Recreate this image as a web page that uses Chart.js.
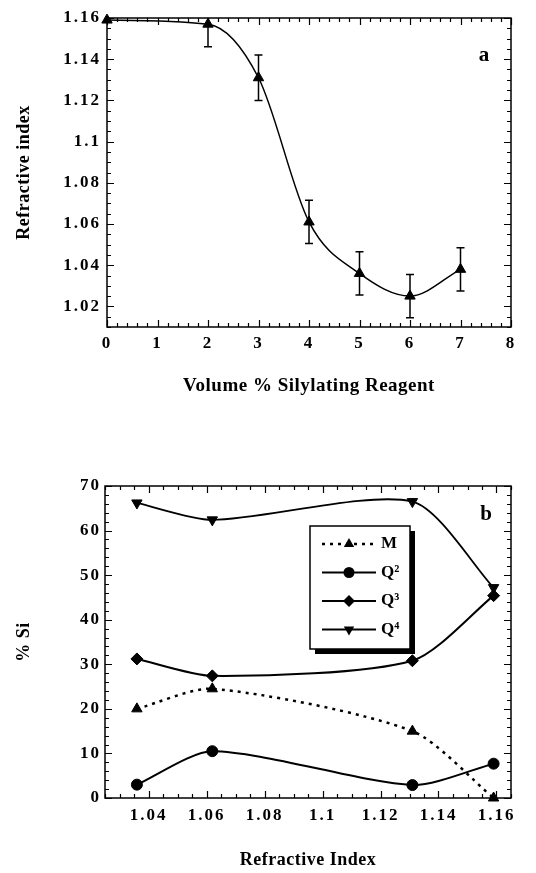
<!DOCTYPE html>
<html>
<head>
<meta charset="utf-8">
<script src="https://cdn.jsdelivr.net/npm/chart.js@4.4.1/dist/chart.umd.min.js"></script>
<style>
  body { margin: 0; background: #fff; }
  .panel { position: absolute; left: 0; width: 536px; }
  #panelA { top: 0; height: 420px; }
  #panelB { top: 440px; height: 433px; }
</style>
</head>
<body>
<div class="panel" id="panelA"><canvas id="chartA"></canvas></div>
<div class="panel" id="panelB"><canvas id="chartB"></canvas></div>
<script>
// Panel a: refractive index vs. volume % silylating reagent
const volumePct = [0, 2, 3, 4, 5, 6, 7];
const refIndex = [1.159, 1.157, 1.131, 1.061, 1.036, 1.025, 1.038];
const refErr = [0, 0.011, 0.011, 0.0105, 0.0105, 0.0105, 0.0105];
const volTicks = [0, 1, 2, 3, 4, 5, 6, 7, 8];
const volLabels = ['0', '1', '2', '3', '4', '5', '6', '7', '8'];
const riTicks = [1.02, 1.04, 1.06, 1.08, 1.10, 1.12, 1.14, 1.16];
const riLabels = ['1.02', '1.04', '1.06', '1.08', '1.1', '1.12', '1.14', '1.16'];

// Panel b: % Si species vs. refractive index
const riSamples = [1.036, 1.062, 1.131, 1.159];
const siM = [20.0, 24.5, 15.0, 0];
const siQ2 = [3.0, 10.5, 2.9, 7.7];
const siQ3 = [31.2, 27.4, 30.8, 45.4];
const siQ4 = [66.2, 62.4, 66.5, 47.2];
const seriesNames = ['M', 'Q\u00B2', 'Q\u00B3', 'Q\u2074'];
const riAxisTicks = [1.04, 1.06, 1.08, 1.10, 1.12, 1.14, 1.16];
const riAxisLabels = ['1.04', '1.06', '1.08', '1.1', '1.12', '1.14', '1.16'];
const siTicks = [0, 10, 20, 30, 40, 50, 60, 70];
const siLabels = ['0', '10', '20', '30', '40', '50', '60', '70'];

const serif = '"Liberation Serif", "Times New Roman", serif';

function pairs(xs, ys) {
    return xs.map((x, i) => ({ x: x, y: ys[i] }));
}

function fixedTicks(values) {
    return function(scale) {
        scale.ticks = values.map(v => ({ value: v }));
    };
}

function minorValues(scale, step) {
    const out = [];
    const start = Math.ceil(scale.min / step - 1e-6);
    for (let k = start; k * step <= scale.max + 1e-9; k++) {
        const v = k * step;
        if (!scale.ticks.some(t => Math.abs(t.value - v) < step / 10)) out.push(v);
    }
    return out;
}

function drawMarker(ctx, style, x, y, r, rotation) {
    ctx.beginPath();
    if (style === 'circle') {
        ctx.arc(x, y, r, 0, Math.PI * 2);
    } else if (style === 'rectRot') {
        ctx.moveTo(x, y - r);
        ctx.lineTo(x + r, y);
        ctx.lineTo(x, y + r);
        ctx.lineTo(x - r, y);
    } else {
        let rad = (rotation || 0) * Math.PI / 180;
        for (let k = 0; k < 3; k++) {
            const px = x + Math.sin(rad) * r, py = y - Math.cos(rad) * r;
            if (k === 0) ctx.moveTo(px, py); else ctx.lineTo(px, py);
            rad += Math.PI * 2 / 3;
        }
    }
    ctx.closePath();
    ctx.fill();
}

// letter spacing: titles loose, tick labels wide like the original
const spacingPlugin = {
    id: 'spacing',
    beforeDraw(chart) { chart.ctx.letterSpacing = '0.5px'; },
    afterDatasetsDraw(chart) { chart.ctx.letterSpacing = '2px'; },
    afterDraw(chart) { chart.ctx.letterSpacing = '0px'; }
};

const errorBarPlugin = {
    id: 'errorBars',
    afterDatasetsDraw(chart) {
        const { ctx, chartArea: a, scales: { x, y } } = chart;
        chart.data.datasets.forEach(ds => {
            if (!ds.errors) return;
            ctx.save();
            ctx.beginPath();
            ctx.rect(a.left, a.top, a.right - a.left, a.bottom - a.top);
            ctx.clip();
            ctx.strokeStyle = '#000';
            ctx.lineWidth = 1.5;
            ds.data.forEach((p, i) => {
                const e = ds.errors[i];
                if (!e) return;
                const px = x.getPixelForValue(p.x);
                const hi = y.getPixelForValue(p.y + e);
                const lo = y.getPixelForValue(p.y - e);
                ctx.beginPath();
                ctx.moveTo(px, hi); ctx.lineTo(px, lo);
                ctx.moveTo(px - 4, hi); ctx.lineTo(px + 4, hi);
                ctx.moveTo(px - 4, lo); ctx.lineTo(px + 4, lo);
                ctx.stroke();
            });
            ctx.restore();
        });
    }
};

// box around the plot with inward major and minor ticks on all four sides
const framePlugin = {
    id: 'frame',
    afterDraw(chart, args, opts) {
        const { ctx, chartArea: a, scales: { x, y } } = chart;
        ctx.save();
        ctx.letterSpacing = '0px';
        ctx.strokeStyle = '#000';
        ctx.lineWidth = 1.5;
        ctx.strokeRect(a.left, a.top, a.right - a.left, a.bottom - a.top);
        ctx.lineWidth = 1.2;
        const xMark = (v, len) => {
            const px = Math.round(x.getPixelForValue(v)) + 0.5;
            ctx.moveTo(px, a.bottom); ctx.lineTo(px, a.bottom - len);
            ctx.moveTo(px, a.top); ctx.lineTo(px, a.top + len);
        };
        const yMark = (v, len) => {
            const py = Math.round(y.getPixelForValue(v)) + 0.5;
            ctx.moveTo(a.left, py); ctx.lineTo(a.left + len, py);
            ctx.moveTo(a.right, py); ctx.lineTo(a.right - len, py);
        };
        ctx.beginPath();
        x.ticks.forEach(t => xMark(t.value, 7));
        y.ticks.forEach(t => yMark(t.value, 7));
        minorValues(x, opts.minorX).forEach(v => xMark(v, 4));
        minorValues(y, opts.minorY).forEach(v => yMark(v, 4));
        ctx.stroke();
        if (opts.text) {
            ctx.fillStyle = '#000';
            ctx.font = 'bold 21px ' + serif;
            ctx.textAlign = 'center';
            ctx.textBaseline = 'middle';
            ctx.fillText(opts.text, a.right - opts.dx, a.top + opts.dy);
        }
        ctx.restore();
    }
};

// framed legend with a drop shadow, placed inside the plot of panel b
const boxLegendPlugin = {
    id: 'boxLegend',
    afterDraw(chart, args, opts) {
        if (!opts.w) return;
        const { ctx, chartArea: a } = chart;
        const bx = a.left + opts.dx, by = a.top + opts.dy;
        ctx.save();
        ctx.letterSpacing = '0px';
        ctx.fillStyle = '#000';
        ctx.fillRect(bx + 5, by + 5, opts.w, opts.h);
        ctx.fillStyle = '#fff';
        ctx.fillRect(bx, by, opts.w, opts.h);
        ctx.strokeStyle = '#000';
        ctx.lineWidth = 1.5;
        ctx.strokeRect(bx, by, opts.w, opts.h);
        chart.data.datasets.forEach((ds, i) => {
            const yy = by + 18 + i * 28.5;
            ctx.save();
            ctx.lineWidth = ds.borderWidth;
            ctx.setLineDash(ds.borderDash || []);
            ctx.beginPath();
            ctx.moveTo(bx + 12, yy);
            ctx.lineTo(bx + 66, yy);
            ctx.stroke();
            ctx.restore();
            ctx.fillStyle = '#000';
            drawMarker(ctx, ds.pointStyle, bx + 39, yy, ds.pointRadius, ds.pointRotation);
            ctx.font = 'bold 17px ' + serif;
            ctx.textAlign = 'left';
            ctx.textBaseline = 'middle';
            ctx.fillText(ds.label, bx + 71, yy);
        });
        ctx.restore();
    }
};

function axisTicks(labels, padding) {
    return {
        z: 1,
        padding: padding,
        autoSkip: false,
        maxRotation: 0,
        color: '#000',
        font: { family: serif, size: 17, weight: 'bold' },
        callback: (v, i) => labels[i]
    };
}

function axisTitle(text, size, padding) {
    return {
        display: true,
        text: text,
        color: '#000',
        font: { family: serif, size: size, weight: 'bold' },
        padding: padding
    };
}

const hidden = { display: false, drawTicks: false };

new Chart(document.getElementById('chartA'), {
    type: 'line',
    data: {
        datasets: [{
            label: 'Refractive index',
            data: pairs(volumePct, refIndex),
            errors: refErr,
            borderColor: '#000',
            borderWidth: 1.5,
            pointStyle: 'triangle',
            pointRadius: 6,
            pointBackgroundColor: '#000',
            pointBorderColor: '#000',
            pointBorderWidth: 1,
            cubicInterpolationMode: 'monotone',
            clip: false,
            fill: false
        }]
    },
    options: {
        animation: false,
        responsive: true,
        maintainAspectRatio: false,
        layout: { padding: { top: 18, right: 25, bottom: 23, left: 0 } },
        plugins: {
            legend: { display: false },
            tooltip: { enabled: false },
            frame: { minorX: 0.2, minorY: 0.005, text: 'a', dx: 27, dy: 38 }
        },
        scales: {
            x: {
                type: 'linear',
                min: 0,
                max: 8,
                afterBuildTicks: fixedTicks(volTicks),
                afterFit: s => { s.height = 70; },
                grid: hidden,
                border: { display: false },
                ticks: axisTicks(volLabels, 6),
                title: axisTitle('Volume % Silylating Reagent', 19, 0)
            },
            y: {
                type: 'linear',
                min: 1.01,
                max: 1.16,
                afterBuildTicks: fixedTicks(riTicks),
                afterFit: s => { s.width = 107; },
                grid: hidden,
                border: { display: false },
                ticks: axisTicks(riLabels, 6),
                title: axisTitle('Refractive index', 18, { top: 14, bottom: 0 })
            }
        }
    },
    plugins: [spacingPlugin, errorBarPlugin, framePlugin]
});

const speciesStyles = [
    { pointStyle: 'triangle', pointRadius: 6, pointRotation: 0, borderDash: [3, 5], borderWidth: 2.5 },
    { pointStyle: 'circle', pointRadius: 5.5, pointRotation: 0, borderWidth: 2 },
    { pointStyle: 'rectRot', pointRadius: 6, pointRotation: 0, borderWidth: 2 },
    { pointStyle: 'triangle', pointRadius: 6, pointRotation: 180, borderWidth: 1.8 }
];
const speciesData = [siM, siQ2, siQ3, siQ4];

new Chart(document.getElementById('chartB'), {
    type: 'line',
    data: {
        datasets: speciesData.map((vals, i) => Object.assign({
            label: seriesNames[i],
            data: pairs(riSamples, vals),
            borderColor: '#000',
            pointBackgroundColor: '#000',
            pointBorderColor: '#000',
            pointBorderWidth: 1,
            tension: 0.25,
            clip: false,
            fill: false
        }, speciesStyles[i]))
    },
    options: {
        animation: false,
        responsive: true,
        maintainAspectRatio: false,
        layout: { padding: { top: 46, right: 25, bottom: 2, left: 0 } },
        plugins: {
            legend: { display: false },
            tooltip: { enabled: false },
            frame: { minorX: 0.005, minorY: 2, text: 'b', dx: 25, dy: 29 },
            boxLegend: { dx: 205, dy: 40, w: 100, h: 123 }
        },
        scales: {
            x: {
                type: 'linear',
                min: 1.025,
                max: 1.165,
                afterBuildTicks: fixedTicks(riAxisTicks),
                afterFit: s => { s.height = 73; },
                grid: hidden,
                border: { display: false },
                ticks: axisTicks(riAxisLabels, 7),
                title: axisTitle('Refractive Index', 18, 0)
            },
            y: {
                type: 'linear',
                min: 0,
                max: 70,
                afterBuildTicks: fixedTicks(siTicks),
                afterFit: s => { s.width = 105; },
                grid: hidden,
                border: { display: false },
                ticks: axisTicks(siLabels, 4),
                title: axisTitle('% Si', 18, { top: 14, bottom: 0 })
            }
        }
    },
    plugins: [spacingPlugin, errorBarPlugin, framePlugin, boxLegendPlugin]
});
</script>
</body>
</html>
